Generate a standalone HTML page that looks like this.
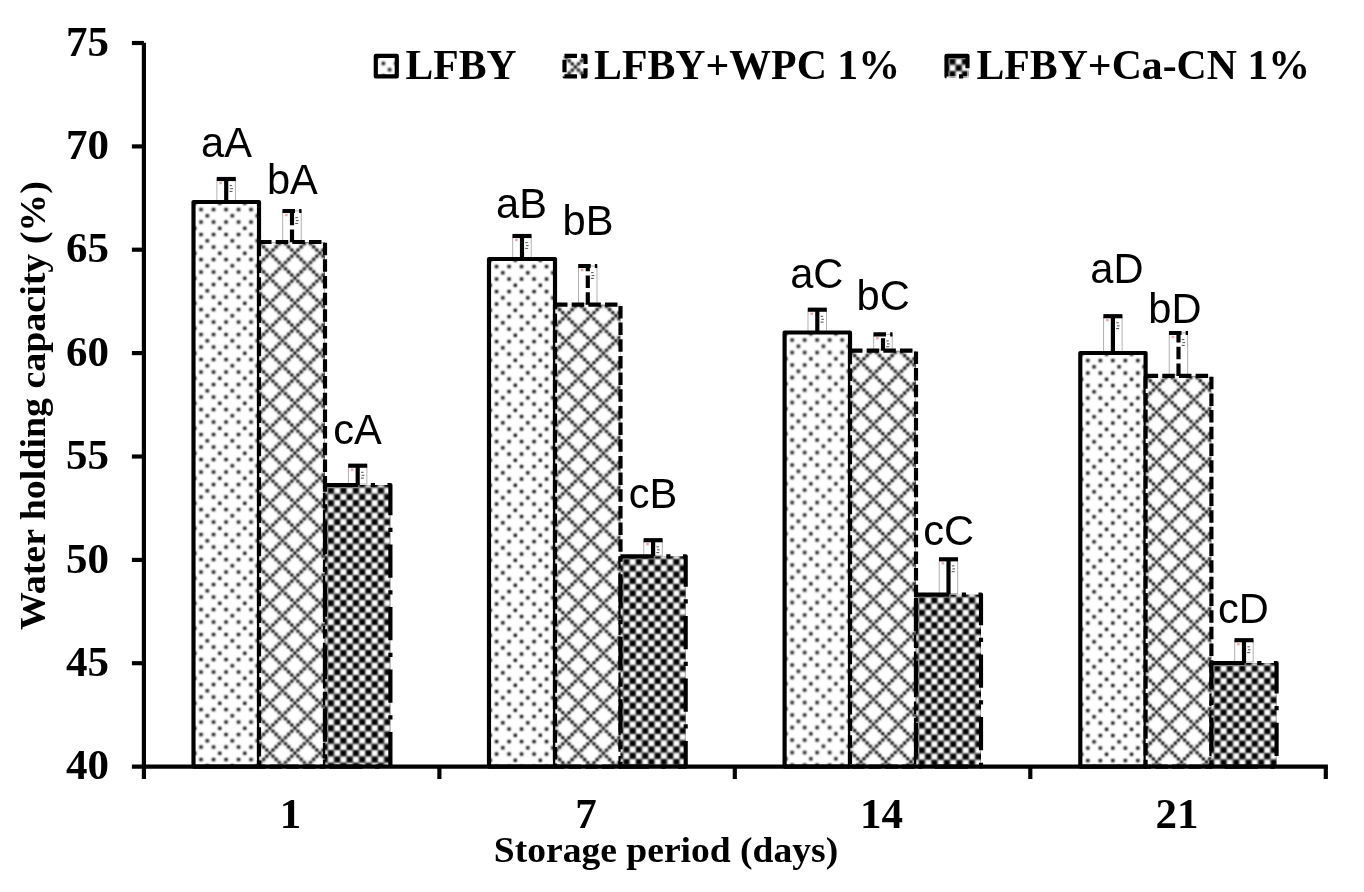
<!DOCTYPE html>
<html lang="en"><head><meta charset="utf-8"><title>Water holding capacity chart</title>
<style>html,body{margin:0;padding:0;background:#fff}body{width:1364px;height:892px;overflow:hidden}svg{display:block}.s{font-family:"Liberation Serif","Times New Roman",serif;font-weight:bold;fill:#000}.a{font-family:"Liberation Sans",Arial,sans-serif;fill:#000}</style></head><body>
<svg width="1364" height="892" viewBox="0 0 1364 892">
<defs>
<filter id="bl1" x="-5%" y="-5%" width="110%" height="110%" color-interpolation-filters="sRGB"><feConvolveMatrix order="5" kernelMatrix="0.0021 0.0112 0.0195 0.0112 0.0021 0.0112 0.0589 0.1025 0.0589 0.0112 0.0195 0.1025 0.1784 0.1025 0.0195 0.0112 0.0589 0.1025 0.0589 0.0112 0.0021 0.0112 0.0195 0.0112 0.0021" edgeMode="duplicate" preserveAlpha="true"/></filter>
<filter id="bl2" x="-5%" y="-5%" width="110%" height="110%" color-interpolation-filters="sRGB"><feConvolveMatrix order="5" kernelMatrix="0.0009 0.0069 0.0139 0.0069 0.0009 0.0069 0.0554 0.1107 0.0554 0.0069 0.0139 0.1107 0.2211 0.1107 0.0139 0.0069 0.0554 0.1107 0.0554 0.0069 0.0009 0.0069 0.0139 0.0069 0.0009" edgeMode="duplicate" preserveAlpha="true"/></filter>
<filter id="bl3" x="-5%" y="-5%" width="110%" height="110%" color-interpolation-filters="sRGB"><feConvolveMatrix order="5" kernelMatrix="0.0021 0.0112 0.0195 0.0112 0.0021 0.0112 0.0589 0.1025 0.0589 0.0112 0.0195 0.1025 0.1784 0.1025 0.0195 0.0112 0.0589 0.1025 0.0589 0.0112 0.0021 0.0112 0.0195 0.0112 0.0021" edgeMode="duplicate" preserveAlpha="true"/></filter>
<pattern id="p1" width="25" height="25" patternUnits="userSpaceOnUse">
<rect width="25" height="25" fill="#fff"/>
<path d="M3.075,3.075h3.225v3.225h-3.225zM15.575,3.075h3.225v3.225h-3.225zM3.075,15.575h3.225v3.225h-3.225zM15.575,15.575h3.225v3.225h-3.225zM9.325,9.325h3.225v3.225h-3.225zM21.825,21.825h3.225v3.225h-3.225z" fill="#000"/>
</pattern>
<pattern id="p2" width="25" height="25" patternUnits="userSpaceOnUse">
<rect width="25" height="25" fill="#fff"/>
<path d="M0,0h3.125v3.125h-3.125zM3.125,3.125h3.125v3.125h-3.125zM3.125,21.875h3.125v3.125h-3.125zM6.25,6.25h3.125v3.125h-3.125zM6.25,18.75h3.125v3.125h-3.125zM9.375,9.375h3.125v3.125h-3.125zM9.375,15.625h3.125v3.125h-3.125zM12.5,12.5h3.125v3.125h-3.125zM15.625,9.375h3.125v3.125h-3.125zM15.625,15.625h3.125v3.125h-3.125zM18.75,6.25h3.125v3.125h-3.125zM18.75,18.75h3.125v3.125h-3.125zM21.875,3.125h3.125v3.125h-3.125zM21.875,21.875h3.125v3.125h-3.125z" fill="#000"/>
</pattern>
<pattern id="p3" width="12.5" height="12.5" patternUnits="userSpaceOnUse"><rect width="12.5" height="12.5" fill="#fff"/><path d="M0,0h6.25v6.25h-6.25zM6.25,6.25h6.25v6.25h-6.25z" fill="#000"/></pattern>
</defs>
<rect width="1364" height="892" fill="#fff"/>
<rect x="216.9" y="179.0" width="18.5" height="22.0" fill="#fff" stroke="#a8a8a8" stroke-width="0.9"/>
<rect x="219.3" y="181.8" width="2.6" height="2.4" fill="#f7a6a6"/>
<path d="M229.7,185.6h2.4m-1.8,3h2.6m-3.4,2.8h3" stroke="#222" stroke-width="0.8" fill="none"/>
<rect x="512.7" y="236.0" width="18.5" height="22.0" fill="#fff" stroke="#a8a8a8" stroke-width="0.9"/>
<rect x="515.1" y="238.8" width="2.6" height="2.4" fill="#f7a6a6"/>
<path d="M525.4,242.6h2.4m-1.8,3h2.6m-3.4,2.8h3" stroke="#222" stroke-width="0.8" fill="none"/>
<rect x="808.0" y="309.7" width="18.5" height="21.8" fill="#fff" stroke="#a8a8a8" stroke-width="0.9"/>
<rect x="810.4" y="312.5" width="2.6" height="2.4" fill="#f7a6a6"/>
<path d="M820.7,316.3h2.4m-1.8,3h2.6m-3.4,2.8h3" stroke="#222" stroke-width="0.8" fill="none"/>
<rect x="1103.6" y="316.2" width="18.5" height="35.8" fill="#fff" stroke="#a8a8a8" stroke-width="0.9"/>
<rect x="1106.0" y="319.0" width="2.6" height="2.4" fill="#f7a6a6"/>
<path d="M1116.3,322.8h2.4m-1.8,3h2.6m-3.4,2.8h3" stroke="#222" stroke-width="0.8" fill="none"/>
<rect x="282.7" y="211.0" width="18.5" height="30.0" fill="#fff" stroke="#a8a8a8" stroke-width="0.9"/>
<rect x="285.1" y="213.8" width="2.6" height="2.4" fill="#f7a6a6"/>
<path d="M295.4,217.6h2.4m-1.8,3h2.6m-3.4,2.8h3" stroke="#222" stroke-width="0.8" fill="none"/>
<rect x="578.5" y="266.0" width="18.5" height="37.7" fill="#fff" stroke="#a8a8a8" stroke-width="0.9"/>
<rect x="580.9" y="268.8" width="2.6" height="2.4" fill="#f7a6a6"/>
<path d="M591.1,272.6h2.4m-1.8,3h2.6m-3.4,2.8h3" stroke="#222" stroke-width="0.8" fill="none"/>
<rect x="873.7" y="334.3" width="18.5" height="15.4" fill="#fff" stroke="#a8a8a8" stroke-width="0.9"/>
<rect x="876.1" y="337.1" width="2.6" height="2.4" fill="#f7a6a6"/>
<path d="M886.4,340.9h2.4m-1.8,3h2.6m-3.4,2.8h3" stroke="#222" stroke-width="0.8" fill="none"/>
<rect x="1169.2" y="333.0" width="18.5" height="41.9" fill="#fff" stroke="#a8a8a8" stroke-width="0.9"/>
<rect x="1171.6" y="335.8" width="2.6" height="2.4" fill="#f7a6a6"/>
<path d="M1181.9,339.6h2.4m-1.8,3h2.6m-3.4,2.8h3" stroke="#222" stroke-width="0.8" fill="none"/>
<rect x="348.4" y="465.7" width="18.5" height="18.3" fill="#fff" stroke="#a8a8a8" stroke-width="0.9"/>
<rect x="350.8" y="468.5" width="2.6" height="2.4" fill="#f7a6a6"/>
<path d="M361.1,472.3h2.4m-1.8,3h2.6m-3.4,2.8h3" stroke="#222" stroke-width="0.8" fill="none"/>
<rect x="643.8" y="540.2" width="18.5" height="15.1" fill="#fff" stroke="#a8a8a8" stroke-width="0.9"/>
<rect x="646.2" y="543.0" width="2.6" height="2.4" fill="#f7a6a6"/>
<path d="M656.5,546.8h2.4m-1.8,3h2.6m-3.4,2.8h3" stroke="#222" stroke-width="0.8" fill="none"/>
<rect x="939.2" y="559.3" width="18.5" height="34.3" fill="#fff" stroke="#a8a8a8" stroke-width="0.9"/>
<rect x="941.6" y="562.1" width="2.6" height="2.4" fill="#f7a6a6"/>
<path d="M951.9,565.9h2.4m-1.8,3h2.6m-3.4,2.8h3" stroke="#222" stroke-width="0.8" fill="none"/>
<rect x="1234.7" y="640.2" width="18.5" height="21.8" fill="#fff" stroke="#a8a8a8" stroke-width="0.9"/>
<rect x="1237.1" y="643.0" width="2.6" height="2.4" fill="#f7a6a6"/>
<path d="M1247.4,646.8h2.4m-1.8,3h2.6m-3.4,2.8h3" stroke="#222" stroke-width="0.8" fill="none"/>
<g>
<pattern id="q1" href="#p1" x="196.37" y="204.91"/>
<rect x="193.5" y="202.0" width="65.5" height="564.6" fill="url(#q1)" filter="url(#bl1)"/>
<pattern id="q2" href="#p1" x="491.87" y="261.92"/>
<rect x="489.0" y="259.0" width="66.0" height="507.6" fill="url(#q2)" filter="url(#bl1)"/>
<pattern id="q3" href="#p1" x="787.47" y="335.42"/>
<rect x="784.6" y="332.5" width="65.4" height="434.1" fill="url(#q3)" filter="url(#bl1)"/>
<pattern id="q4" href="#p1" x="1083.16" y="355.92"/>
<rect x="1080.3" y="353.0" width="65.3" height="413.6" fill="url(#q4)" filter="url(#bl1)"/>
<path d="M193.5,202.0H259.0V766.6H193.5Z" fill="none" stroke="#000" stroke-linejoin="round" stroke-width="4.17"/>
<path d="M489.0,259.0H555.0V766.6H489.0Z" fill="none" stroke="#000" stroke-linejoin="round" stroke-width="4.17"/>
<path d="M784.6,332.5H850.0V766.6H784.6Z" fill="none" stroke="#000" stroke-linejoin="round" stroke-width="4.17"/>
<path d="M1080.3,353.0H1145.6V766.6H1080.3Z" fill="none" stroke="#000" stroke-linejoin="round" stroke-width="4.17"/>
</g>
<g>
<pattern id="q5" href="#p2" x="268.34" y="251.50"/>
<rect x="259.0" y="242.0" width="66.0" height="524.6" fill="url(#q5)" filter="url(#bl2)"/>
<pattern id="q6" href="#p2" x="564.34" y="314.20"/>
<rect x="555.0" y="304.7" width="65.5" height="461.9" fill="url(#q6)" filter="url(#bl2)"/>
<pattern id="q7" href="#p2" x="859.34" y="360.20"/>
<rect x="850.0" y="350.7" width="66.0" height="415.9" fill="url(#q7)" filter="url(#bl2)"/>
<pattern id="q8" href="#p2" x="1154.94" y="385.40"/>
<rect x="1145.6" y="375.9" width="65.8" height="390.7" fill="url(#q8)" filter="url(#bl2)"/>
<path d="M259.0,242.0H325.0V766.6H259.0Z" fill="none" stroke="#000" stroke-linejoin="round" stroke-width="4.17" stroke-dasharray="12.5 4.17"/>
<path d="M555.0,304.7H620.5V766.6H555.0Z" fill="none" stroke="#000" stroke-linejoin="round" stroke-width="4.17" stroke-dasharray="12.5 4.17"/>
<path d="M850.0,350.7H916.0V766.6H850.0Z" fill="none" stroke="#000" stroke-linejoin="round" stroke-width="4.17" stroke-dasharray="12.5 4.17"/>
<path d="M1145.6,375.9H1211.4V766.6H1145.6Z" fill="none" stroke="#000" stroke-linejoin="round" stroke-width="4.17" stroke-dasharray="12.5 4.17"/>
</g>
<g>
<pattern id="q9" href="#p3" x="327.80" y="487.60"/>
<rect x="325.0" y="485.0" width="65.4" height="281.6" fill="url(#q9)" filter="url(#bl3)"/>
<pattern id="q10" href="#p3" x="623.30" y="558.90"/>
<rect x="620.5" y="556.3" width="65.2" height="210.3" fill="url(#q10)" filter="url(#bl3)"/>
<pattern id="q11" href="#p3" x="918.80" y="597.20"/>
<rect x="916.0" y="594.6" width="65.0" height="172.0" fill="url(#q11)" filter="url(#bl3)"/>
<pattern id="q12" href="#p3" x="1214.20" y="665.60"/>
<rect x="1211.4" y="663.0" width="65.2" height="103.6" fill="url(#q12)" filter="url(#bl3)"/>
<path d="M325.0,485.0H390.4V766.6H325.0Z" fill="none" stroke="#000" stroke-linejoin="round" stroke-width="4.17" stroke-dasharray="33.3 12.5 4.17 12.5"/>
<path d="M620.5,556.3H685.7V766.6H620.5Z" fill="none" stroke="#000" stroke-linejoin="round" stroke-width="4.17" stroke-dasharray="33.3 12.5 4.17 12.5"/>
<path d="M916.0,594.6H981.0V766.6H916.0Z" fill="none" stroke="#000" stroke-linejoin="round" stroke-width="4.17" stroke-dasharray="33.3 12.5 4.17 12.5"/>
<path d="M1211.4,663.0H1276.6V766.6H1211.4Z" fill="none" stroke="#000" stroke-linejoin="round" stroke-width="4.17" stroke-dasharray="33.3 12.5 4.17 12.5"/>
</g>
<path d="M226.2,202.0V179.0" stroke="#000" stroke-width="4.17" fill="none"/>
<path d="M216.8,179.0H235.8" stroke="#000" stroke-width="4.17" fill="none"/>
<path d="M522.0,259.0V236.0" stroke="#000" stroke-width="4.17" fill="none"/>
<path d="M512.5,236.0H531.5" stroke="#000" stroke-width="4.17" fill="none"/>
<path d="M817.3,332.5V309.7" stroke="#000" stroke-width="4.17" fill="none"/>
<path d="M807.8,309.7H826.8" stroke="#000" stroke-width="4.17" fill="none"/>
<path d="M1112.9,353.0V316.2" stroke="#000" stroke-width="4.17" fill="none"/>
<path d="M1103.4,316.2H1122.4" stroke="#000" stroke-width="4.17" fill="none"/>
<path d="M292.0,242.0V211.0" stroke="#000" stroke-width="4.17" fill="none" stroke-dasharray="12.5 4.17"/>
<path d="M282.5,211.0H301.5" stroke="#000" stroke-width="4.17" fill="none" stroke-dasharray="12.5 4.17"/>
<path d="M587.8,304.7V266.0" stroke="#000" stroke-width="4.17" fill="none" stroke-dasharray="12.5 4.17"/>
<path d="M578.2,266.0H597.2" stroke="#000" stroke-width="4.17" fill="none" stroke-dasharray="12.5 4.17"/>
<path d="M883.0,350.7V334.3" stroke="#000" stroke-width="4.17" fill="none" stroke-dasharray="12.5 4.17"/>
<path d="M873.5,334.3H892.5" stroke="#000" stroke-width="4.17" fill="none" stroke-dasharray="12.5 4.17"/>
<path d="M1178.5,375.9V333.0" stroke="#000" stroke-width="4.17" fill="none" stroke-dasharray="12.5 4.17"/>
<path d="M1169.0,333.0H1188.0" stroke="#000" stroke-width="4.17" fill="none" stroke-dasharray="12.5 4.17"/>
<path d="M357.7,485.0V465.7" stroke="#000" stroke-width="4.17" fill="none"/>
<path d="M348.2,465.7H367.2" stroke="#000" stroke-width="4.17" fill="none"/>
<path d="M653.1,556.3V540.2" stroke="#000" stroke-width="4.17" fill="none"/>
<path d="M643.6,540.2H662.6" stroke="#000" stroke-width="4.17" fill="none"/>
<path d="M948.5,594.6V559.3" stroke="#000" stroke-width="4.17" fill="none"/>
<path d="M939.0,559.3H958.0" stroke="#000" stroke-width="4.17" fill="none"/>
<path d="M1244.0,663.0V640.2" stroke="#000" stroke-width="4.17" fill="none"/>
<path d="M1234.5,640.2H1253.5" stroke="#000" stroke-width="4.17" fill="none"/>
<path d="M143.9,42.7V779.0" stroke="#000" stroke-width="4.17" fill="none"/>
<path d="M131.9,766.6H1327.9" stroke="#000" stroke-width="4.17" fill="none"/>
<text class="s" x="109" y="779.2" font-size="43" text-anchor="end">40</text>
<path d="M131.9,663.2H143.9" stroke="#000" stroke-width="4.17"/>
<text class="s" x="109" y="675.8" font-size="43" text-anchor="end">45</text>
<path d="M131.9,559.9H143.9" stroke="#000" stroke-width="4.17"/>
<text class="s" x="109" y="572.5" font-size="43" text-anchor="end">50</text>
<path d="M131.9,456.5H143.9" stroke="#000" stroke-width="4.17"/>
<text class="s" x="109" y="469.1" font-size="43" text-anchor="end">55</text>
<path d="M131.9,353.1H143.9" stroke="#000" stroke-width="4.17"/>
<text class="s" x="109" y="365.7" font-size="43" text-anchor="end">60</text>
<path d="M131.9,249.7H143.9" stroke="#000" stroke-width="4.17"/>
<text class="s" x="109" y="262.3" font-size="43" text-anchor="end">65</text>
<path d="M131.9,146.4H143.9" stroke="#000" stroke-width="4.17"/>
<text class="s" x="109" y="159.0" font-size="43" text-anchor="end">70</text>
<path d="M131.9,43.0H143.9" stroke="#000" stroke-width="4.17"/>
<text class="s" x="109" y="55.6" font-size="43" text-anchor="end">75</text>
<path d="M439.4,766.6V779.0" stroke="#000" stroke-width="4.17"/>
<path d="M734.8,766.6V779.0" stroke="#000" stroke-width="4.17"/>
<path d="M1030.3,766.6V779.0" stroke="#000" stroke-width="4.17"/>
<path d="M1325.8,766.6V779.0" stroke="#000" stroke-width="4.17"/>
<text class="s" x="290.6" y="828" font-size="43" text-anchor="middle">1</text>
<text class="s" x="586.1" y="828" font-size="43" text-anchor="middle">7</text>
<text class="s" x="881.6" y="828" font-size="43" text-anchor="middle">14</text>
<text class="s" x="1177.1" y="828" font-size="43" text-anchor="middle">21</text>
<text class="s" x="666" y="861.6" font-size="36.6" text-anchor="middle" textLength="344.5" lengthAdjust="spacingAndGlyphs">Storage period (days)</text>
<text class="s" transform="translate(44.6,405.6) rotate(-90)" font-size="36.6" text-anchor="middle" textLength="449" lengthAdjust="spacingAndGlyphs">Water holding capacity (%)</text>
<pattern id="q13" href="#p1" x="378.67" y="58.81"/>
<rect x="375.8" y="55.9" width="21" height="20.5" fill="url(#q13)" filter="url(#bl1)"/>
<rect x="375.8" y="55.9" width="21" height="20.5" fill="none" stroke="#000" stroke-linejoin="round" stroke-width="4.17"/>
<text class="s" x="405.6" y="79.1" font-size="42.4" textLength="111" lengthAdjust="spacingAndGlyphs">LFBY</text>
<pattern id="q14" href="#p2" x="573.84" y="65.40"/>
<rect x="564.5" y="55.9" width="21" height="20.5" fill="url(#q14)" filter="url(#bl2)"/>
<rect x="564.5" y="55.9" width="21" height="20.5" fill="none" stroke="#000" stroke-linejoin="round" stroke-width="4.17" stroke-dasharray="12.5 4.17"/>
<text class="s" x="594.0" y="79.1" font-size="42.4" textLength="306" lengthAdjust="spacingAndGlyphs">LFBY+WPC 1%</text>
<pattern id="q15" href="#p3" x="949.30" y="58.50"/>
<rect x="946.5" y="55.9" width="21" height="20.5" fill="url(#q15)" filter="url(#bl3)"/>
<rect x="946.5" y="55.9" width="21" height="20.5" fill="none" stroke="#000" stroke-linejoin="round" stroke-width="4.17" stroke-dasharray="33.3 12.5 4.17 12.5"/>
<text class="s" x="976.4" y="79.1" font-size="42.4" textLength="333.7" lengthAdjust="spacingAndGlyphs">LFBY+Ca-CN 1%</text>
<text class="a" x="226.5" y="157.3" font-size="41.6" text-anchor="middle">aA</text>
<text class="a" x="292.4" y="193.5" font-size="41.6" text-anchor="middle">bA</text>
<text class="a" x="357.5" y="444.0" font-size="41.6" text-anchor="middle">cA</text>
<text class="a" x="521.5" y="218.4" font-size="41.6" text-anchor="middle">aB</text>
<text class="a" x="588.0" y="235.4" font-size="41.6" text-anchor="middle">bB</text>
<text class="a" x="652.9" y="507.8" font-size="41.6" text-anchor="middle">cB</text>
<text class="a" x="816.8" y="287.5" font-size="41.6" text-anchor="middle">aC</text>
<text class="a" x="883.2" y="310.0" font-size="41.6" text-anchor="middle">bC</text>
<text class="a" x="948.6" y="545.4" font-size="41.6" text-anchor="middle">cC</text>
<text class="a" x="1116.9" y="283.2" font-size="41.6" text-anchor="middle">aD</text>
<text class="a" x="1174.9" y="323.0" font-size="41.6" text-anchor="middle">bD</text>
<text class="a" x="1243.3" y="622.8" font-size="41.6" text-anchor="middle">cD</text>
</svg></body></html>
